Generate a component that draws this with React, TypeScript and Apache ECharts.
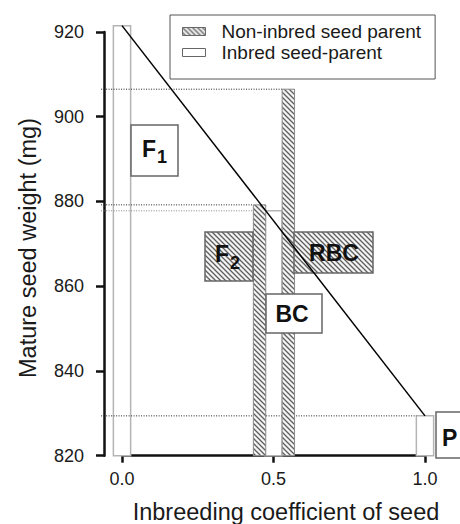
import React, { useEffect, useRef } from "react";
import * as echarts from "echarts";

// ---- data ----
const seriesNames = ["Non-inbred seed parent", "Inbred seed-parent"];
// hatched bars (non-inbred seed parent): inbreeding coefficient and mean seed weight (mg)
const nonInbredX = [0.454, 0.549];
const nonInbredWeight = [879.2, 906.5];
// white bars (inbred seed-parent)
const inbredX = [0, 0.5, 1];
const inbredWeight = [921.5, 877.8, 829.4];
// axis
const yMin = 820;
const yMax = 920;
const yStep = 20;
const xMin = 0;
const xMax = 1;
const xStep = 0.5;
const xTitle = "Inbreeding coefficient of seed";
const yTitle = "Mature seed weight (mg)";
const boxLabels = ["F", "1", "F", "2", "RBC", "BC", "P"];

const FONT = "Liberation Sans, Arial, Helvetica, sans-serif";

function makeHatch(): any {
  const s = 5;
  const c = document.createElement("canvas");
  c.width = s;
  c.height = s;
  const ctx = c.getContext("2d")!;
  ctx.fillStyle = "#f4f4f4";
  ctx.fillRect(0, 0, s, s);
  ctx.strokeStyle = "#5f5f5f";
  ctx.lineWidth = 1.3;
  ctx.beginPath();
  ctx.moveTo(-1, -1);
  ctx.lineTo(s + 1, s + 1);
  ctx.moveTo(-1, s - 1);
  ctx.lineTo(1, s + 1);
  ctx.moveTo(s - 1, -1);
  ctx.lineTo(s + 1, 1);
  ctx.stroke();
  return { image: c, repeat: "repeat" };
}

export default function App() {
  const ref = useRef<HTMLDivElement>(null);
  useEffect(() => {
    if (!ref.current) return;
    const chart = echarts.init(ref.current, undefined, { renderer: "svg" });
    const hatch = makeHatch();
    const WHITE_W = 0.057;
    const HATCH_W = 0.041;

    const barItem = (w: number, fill: any, stroke: string, lw: number) =>
      (params: any, api: any) => {
        const x = api.value(0);
        const v = api.value(1);
        const p0 = api.coord([x - w / 2, v]);
        const p1 = api.coord([x + w / 2, yMin]);
        return {
          type: "rect",
          shape: { x: p0[0], y: p0[1], width: p1[0] - p0[0], height: p1[1] - p0[1] },
          style: { fill, stroke, lineWidth: lw },
        };
      };

    // dotted reference lines: from left of the y axis to each bar (except the F1 bar at 0)
    const refLines: any[] = [];
    nonInbredX.forEach((x, i) => refLines.push([x - HATCH_W / 2, nonInbredWeight[i], 0]));
    inbredX.forEach((x, i) => {
      if (x > 0) refLines.push([x - WHITE_W / 2, inbredWeight[i], x === 0.5 ? 1 : 0]);
    });

    const textStyle = (text: string, x: number, y: number, size: number, align = "center") => ({
      type: "text",
      z: 30,
      x,
      y,
      style: {
        text,
        fill: "#111",
        font: `bold ${size}px ${FONT}`,
        align,
        verticalAlign: "middle",
      },
    });
    const box = (x: number, y: number, w: number, h: number, fill: any) => ({
      type: "rect",
      z: 29,
      shape: { x, y, width: w, height: h },
      style: { fill, stroke: "#666", lineWidth: 1.5 },
    });

    chart.setOption({
      animation: false,
      backgroundColor: "#fff",
      grid: { left: 122, right: 35, top: 32, bottom: 68.3, containLabel: false },
      legend: {
        orient: "vertical",
        left: 170,
        top: 15,
        padding: [7, 14, 17, 12],
        itemGap: 2,
        itemWidth: 23,
        itemHeight: 8,
        borderColor: "#555",
        borderWidth: 1,
        backgroundColor: "#fff",
        icon: "rect",
        selectedMode: false,
        textStyle: { fontSize: 19, fontFamily: FONT, color: "#1a1a1a", padding: [0, 0, 0, 11] },
        data: [
          { name: seriesNames[0], itemStyle: { color: hatch, borderColor: "#666", borderWidth: 1 } },
          { name: seriesNames[1], itemStyle: { color: "#fff", borderColor: "#666", borderWidth: 1 } },
        ],
      },
      xAxis: {
        type: "value",
        min: xMin,
        max: xMax,
        interval: xStep,
        splitLine: { show: false },
        axisLine: { show: true, onZero: false, lineStyle: { color: "#111", width: 2.5 } },
        axisTick: { show: true, length: 7, lineStyle: { color: "#111", width: 2.5 } },
        axisLabel: {
          margin: 14,
          fontSize: 18,
          fontFamily: FONT,
          color: "#1a1a1a",
          formatter: (v: number) => v.toFixed(1),
        },
      },
      yAxis: {
        type: "value",
        min: yMin,
        max: yMax,
        interval: yStep,
        offset: 18,
        splitLine: { show: false },
        axisLine: { show: true, onZero: false, lineStyle: { color: "#111", width: 2.5 } },
        axisTick: { show: true, length: 8, lineStyle: { color: "#111", width: 2.5 } },
        axisLabel: { margin: 20, fontSize: 18, fontFamily: FONT, color: "#1a1a1a" },
      },
      series: [
        {
          name: seriesNames[1],
          type: "custom",
          z: 1,
          clip: false,
          itemStyle: { color: "#fff", borderColor: "#666" },
          encode: { x: 0, y: 1 },
          data: inbredX.map((x, i) => [x, inbredWeight[i]]),
          renderItem: barItem(WHITE_W, "#fff", "#b4b4b4", 1.5),
        },
        {
          name: "ref",
          type: "custom",
          z: 2,
          clip: false,
          encode: { x: 0, y: 1 },
          data: refLines,
          renderItem: (params: any, api: any) => {
            const p0 = api.coord([-0.069, api.value(1)]);
            const p1 = api.coord([api.value(0), api.value(1)]);
            const grey = api.value(2) === 1;
            return {
              type: "line",
              shape: { x1: p0[0], y1: p0[1], x2: p1[0], y2: p1[1] },
              style: { stroke: grey ? "#888" : "#222", lineWidth: 1, lineDash: [1, 1.5] },
            };
          },
        },
        {
          name: seriesNames[0],
          type: "custom",
          z: 3,
          clip: false,
          itemStyle: { color: hatch, borderColor: "#666" },
          encode: { x: 0, y: 1 },
          data: nonInbredX.map((x, i) => [x, nonInbredWeight[i]]),
          renderItem: barItem(HATCH_W, hatch, "#8a8a8a", 1),
        },
        {
          name: "expected",
          type: "line",
          z: 40,
          clip: false,
          symbol: "none",
          lineStyle: { color: "#000", width: 1.5 },
          data: [
            [inbredX[0], inbredWeight[0]],
            [inbredX[2], inbredWeight[2]],
          ],
        },
      ],
      graphic: [
        box(131, 125, 47, 51, "#fff"),
        textStyle(boxLabels[0], 142, 149, 23, "left"),
        textStyle(boxLabels[1], 157, 157, 18, "left"),
        box(205, 232, 48, 49, hatch),
        textStyle(boxLabels[2], 215, 254, 23, "left"),
        textStyle(boxLabels[3], 230, 263, 18, "left"),
        box(294, 232, 79, 41, hatch),
        textStyle(boxLabels[4], 334, 253, 23),
        box(266, 294, 56, 39, "#fff"),
        textStyle(boxLabels[5], 292, 314, 23),
        box(436, 412, 40, 46, "#fff"),
        textStyle(boxLabels[6], 442, 438, 23, "left"),
        {
          type: "text",
          x: 28,
          y: 248,
          rotation: Math.PI / 2,
          style: {
            text: yTitle,
            fill: "#1a1a1a",
            font: `23.5px ${FONT}`,
            align: "center",
            verticalAlign: "middle",
          },
        },
        {
          type: "text",
          x: 286,
          y: 512,
          style: {
            text: xTitle,
            fill: "#1a1a1a",
            font: `23.5px ${FONT}`,
            align: "center",
            verticalAlign: "middle",
          },
        },
      ],
    });
    return () => chart.dispose();
  }, []);
  return (
    <div
      ref={ref}
      style={{ position: "fixed", left: 0, top: 0, width: 460, height: 524, background: "#fff" }}
    />
  );
}
